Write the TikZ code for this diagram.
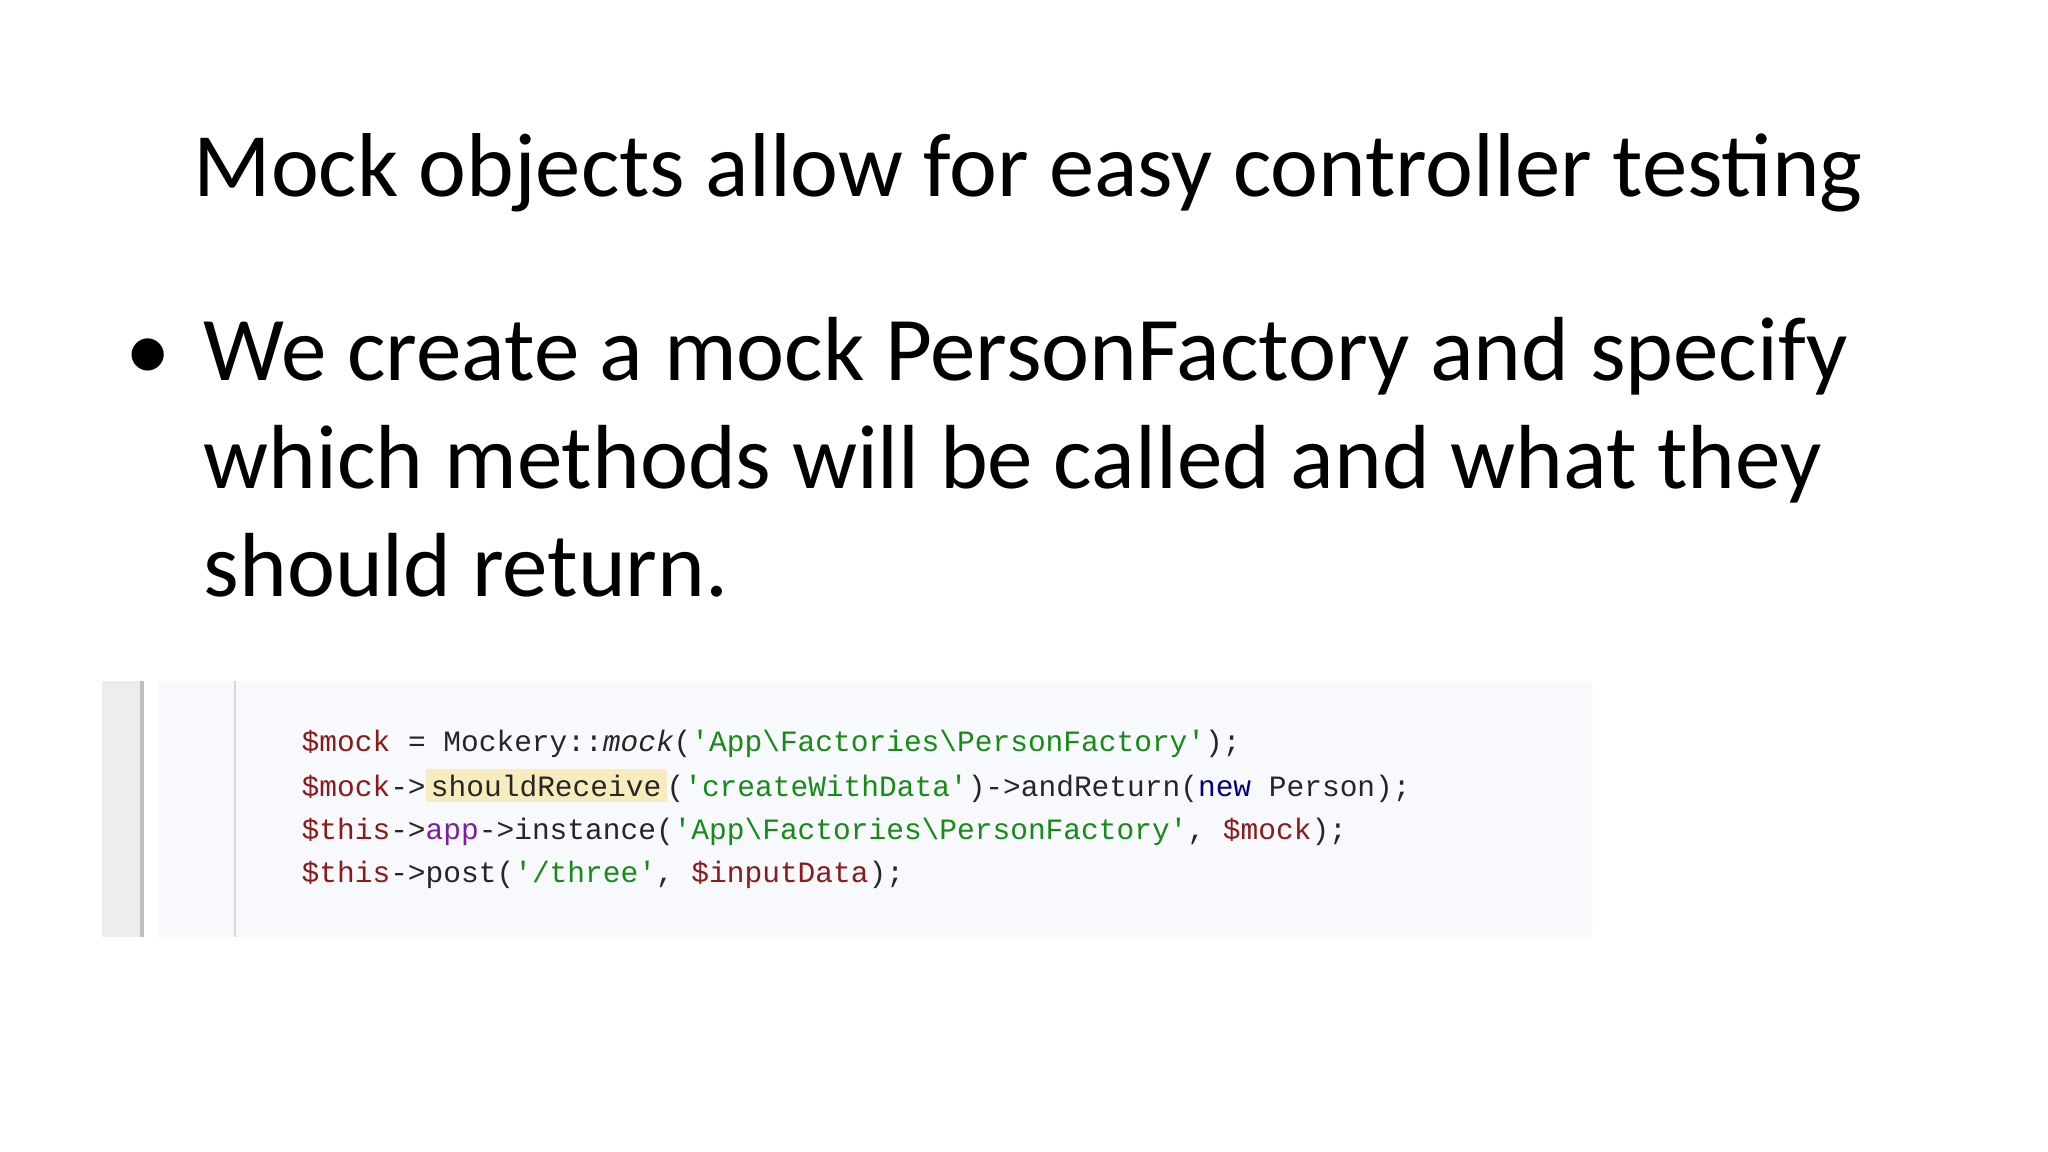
\documentclass[tikz,border=0pt]{standalone}
\usepackage{fontspec}
\setmainfont{Carlito}
\setmonofont{Liberation Mono}
\usetikzlibrary{positioning}
\definecolor{varred}{HTML}{8B1A1A}
\definecolor{strgreen}{HTML}{178A17}
\definecolor{keynavy}{HTML}{000080}
\definecolor{propurple}{HTML}{7A1FA2}
\definecolor{hilite}{HTML}{F7ECBE}
\definecolor{codebg}{HTML}{F7F9FD}
\definecolor{gutter}{HTML}{EDEDED}
\newcommand{\cvar}[1]{\textcolor{varred}{#1}}
\newcommand{\cstr}[1]{\textcolor{strgreen}{#1}}
\newcommand{\bs}{\textbackslash}
\begin{document}
\begin{tikzpicture}
\tikzstyle{bodyline} = [anchor=base west, inner sep=0pt, font=\fontsize{25.9}{28}\selectfont]
\tikzstyle{codeline} = [anchor=base west, inner sep=0pt, font=\fontsize{8.4}{10}\selectfont\ttfamily, text=black!85]
\useasboundingbox[fill=white] (0,0) rectangle (20.48,-11.52);
% slide title
\node[font=\fontsize{25.8}{28}\selectfont, anchor=base] at (10.28, -1.97) (title) {Mock objects allow for easy controller testing};
% bullet text
\node[bodyline] at (1.25, -3.81) (bullet) {•};
\node[bodyline] at (2.03, -3.81) (line_0) {We create a mock PersonFactory and specify};
\node[bodyline] at (2.03, -4.89) (line_1) {which methods will be called and what they};
\node[bodyline] at (2.03, -5.97) (line_2) {should return.};
% code panel
\fill[gutter] (1.02, -6.81) rectangle (1.42, -9.37);
\draw[black!25, line width=1.2pt] (1.42, -6.81) -- (1.42, -9.37);
\fill[codebg] (1.58, -6.81) rectangle (15.92, -9.37);
\draw[black!15, line width=0.8pt] (2.35, -6.81) -- (2.35, -9.37);
\node[codeline] at (3.01, -7.52) (code_0) {\cvar{\$mock} = Mockery::\textit{mock}(\cstr{'App\bs Factories\bs PersonFactory'});};
\node[codeline] at (3.01, -7.96) (code_1) {\cvar{\$mock}->{\setlength\fboxsep{1.5pt}\colorbox{hilite}{shouldReceive}}(\cstr{'createWithData'})->andReturn(\textcolor{keynavy}{new} Person);};
\node[codeline] at (3.01, -8.39) (code_2) {\cvar{\$this}->\textcolor{propurple}{app}->instance(\cstr{'App\bs Factories\bs PersonFactory'}, \cvar{\$mock});};
\node[codeline] at (3.01, -8.82) (code_3) {\cvar{\$this}->post(\cstr{'/three'}, \cvar{\$inputData});};
\end{tikzpicture}
\end{document}
